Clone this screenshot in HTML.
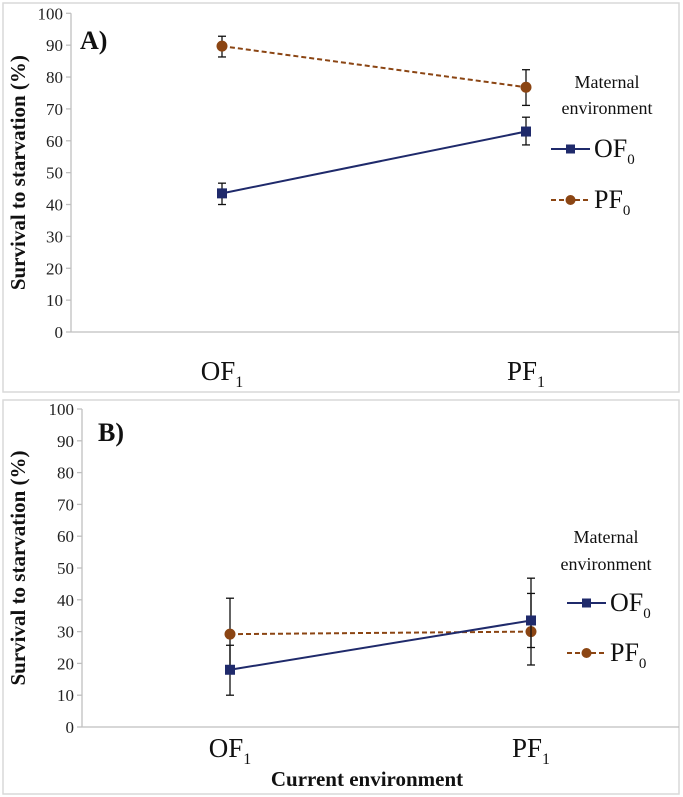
<!DOCTYPE html>
<html><head><meta charset="utf-8"><style>
body{margin:0;background:#fff;}
svg{display:block;font-family:"Liberation Serif",serif;}
</style></head><body>
<svg id="chart" width="683" height="797"></svg>
<script>
const categories = ["OF1","PF1"];
const yTicks = [0,10,20,30,40,50,60,70,80,90,100];
const aOF0 = [43.5, 62.9];
const aOF0Lo = [40.0, 58.7];
const aOF0Hi = [46.7, 67.4];
const aPF0 = [89.7, 76.8];
const aPF0Lo = [86.3, 71.1];
const aPF0Hi = [92.8, 82.3];
const bOF0 = [18.0, 33.5];
const bOF0Lo = [10.0, 25.0];
const bOF0Hi = [25.7, 42.0];
const bPF0 = [29.2, 30.0];
const bPF0Lo = [18.0, 19.5];
const bPF0Hi = [40.5, 46.8];

const NS="http://www.w3.org/2000/svg";
const svg=document.getElementById('chart');
function mk(tag,attrs,parent){const e=document.createElementNS(NS,tag);for(const k in attrs)e.setAttribute(k,attrs[k]);(parent||svg).appendChild(e);return e;}

const panels=[
 {id:'a',label:'A)',top:3,bottom:392,ax:71,y0:332,y100:13.3,xs:[222,526],
  of:[aOF0,aOF0Lo,aOF0Hi],pf:[aPF0,aPF0Lo,aPF0Hi],
  leg:{cx:607,m:88,e:114,l1:149,l2:200,lx:551},xlabY:380,lblX:80,lblY:49},
 {id:'b',label:'B)',top:400,bottom:794,ax:82,y0:727,y100:409,xs:[230,531],
  of:[bOF0,bOF0Lo,bOF0Hi],pf:[bPF0,bPF0Lo,bPF0Hi],
  leg:{cx:606,m:543,e:570,l1:603,l2:653,lx:567},xlabY:757,lblX:98,lblY:441}
];

panels.forEach(p=>{
 const g=mk('g',{});
 
 
 const fr=mk('rect',{x:3,y:p.top,width:676,height:p.bottom-p.top,fill:'#fff',stroke:'#d9d9d9','stroke-width':1.5},g);
 
 
 const Y=v=>p.y0-(v/100)*(p.y0-p.y100);
 const ya=mk('line',{x1:p.ax,y1:p.y100,x2:p.ax,y2:p.y0,stroke:'#bfbfbf','stroke-width':1.3},g);
 
 
 const xa=mk('line',{x1:p.ax,y1:p.y0,x2:679,y2:p.y0,stroke:'#bfbfbf','stroke-width':1.3},g);
 
 
 yTicks.forEach(t=>{
  mk('line',{x1:p.ax-5,y1:Y(t),x2:p.ax,y2:Y(t),stroke:'#bfbfbf','stroke-width':1.3},g);
  const tx=mk('text',{x:p.ax-8,y:Y(t)+6,'text-anchor':'end','font-size':17,fill:'#222'},g);
  tx.textContent=t;
  
  
 });
 const cy=(p.y0+p.y100)/2;
 const yt=mk('text',{x:0,y:0,transform:`translate(25,${cy}) rotate(-90)`,'text-anchor':'middle','font-size':21,'font-weight':'bold',fill:'#111'},g);
 yt.textContent='Survival to starvation (%)';
 
 
 const pl=mk('text',{x:p.lblX,y:p.lblY,'font-size':26,'font-weight':'bold',fill:'#111'},g);
 pl.textContent=p.label;
 
 
 categories.forEach((c,i)=>{
  const t=mk('text',{x:p.xs[i],y:p.xlabY,'text-anchor':'middle','font-size':27,fill:'#111'},g);
  const a=mk('tspan',{},t);a.textContent=c.slice(0,2);
  const b=mk('tspan',{'font-size':16,dy:7},t);b.textContent=c.slice(2);
  
  
 });
 function series(d,color,dash,marker,name){
  const sg=mk('g',{},g);
  
  
  d[0].forEach((v,i)=>{
   const x=p.xs[i];
   mk('line',{x1:x,y1:Y(d[1][i]),x2:x,y2:Y(d[2][i]),stroke:'#111','stroke-width':1.3},sg);
   mk('line',{x1:x-4,y1:Y(d[1][i]),x2:x+4,y2:Y(d[1][i]),stroke:'#111','stroke-width':1.3},sg);
   mk('line',{x1:x-4,y1:Y(d[2][i]),x2:x+4,y2:Y(d[2][i]),stroke:'#111','stroke-width':1.3},sg);
  });
  const ln=mk('line',{x1:p.xs[0],y1:Y(d[0][0]),x2:p.xs[1],y2:Y(d[0][1]),stroke:color,'stroke-width':2,'stroke-dasharray':dash},sg);
  
  
  d[0].forEach((v,i)=>{
   let m;
   if(marker==='sq') m=mk('rect',{x:p.xs[i]-5,y:Y(v)-5,width:10,height:10,fill:color},sg);
   else m=mk('circle',{cx:p.xs[i],cy:Y(v),r:5.5,fill:color},sg);
   
   
  });
 }
 series(p.pf,'#8b4513','5,3','ci','series-pf0');
 series(p.of,'#1f2a6b','none','sq','series-of0');
 const L=p.leg;
 const lg=mk('g',{},g);
 
 
 const t1=mk('text',{x:L.cx,y:L.m,'text-anchor':'middle','font-size':18,fill:'#111'},lg);t1.textContent='Maternal';
 
 
 const t2=mk('text',{x:L.cx,y:L.e,'text-anchor':'middle','font-size':18,fill:'#111'},lg);t2.textContent='environment';
 
 
 [[L.l1,'#1f2a6b','none','sq','OF','0'],[L.l2,'#8b4513','5,3','ci','PF','0']].forEach(e=>{
  const eg=mk('g',{},lg);
  
  
  mk('line',{x1:L.lx,y1:e[0],x2:L.lx+39,y2:e[0],stroke:e[1],'stroke-width':2,'stroke-dasharray':e[2]},eg);
  const mx=L.lx+19.5;
  if(e[3]==='sq') mk('rect',{x:mx-4.5,y:e[0]-4.5,width:9,height:9,fill:e[1]},eg);
  else mk('circle',{cx:mx,cy:e[0],r:5,fill:e[1]},eg);
  const tt=mk('text',{x:L.lx+43,y:e[0]+8,'font-size':26,fill:'#111'},eg);
  const a=mk('tspan',{},tt);a.textContent=e[4];
  const b=mk('tspan',{'font-size':15,dy:7},tt);b.textContent=e[5];
 });
});
const xt=mk('text',{x:367,y:786,'text-anchor':'middle','font-size':21,'font-weight':'bold',fill:'#111'});
xt.textContent='Current environment';


</script>
</body></html>
